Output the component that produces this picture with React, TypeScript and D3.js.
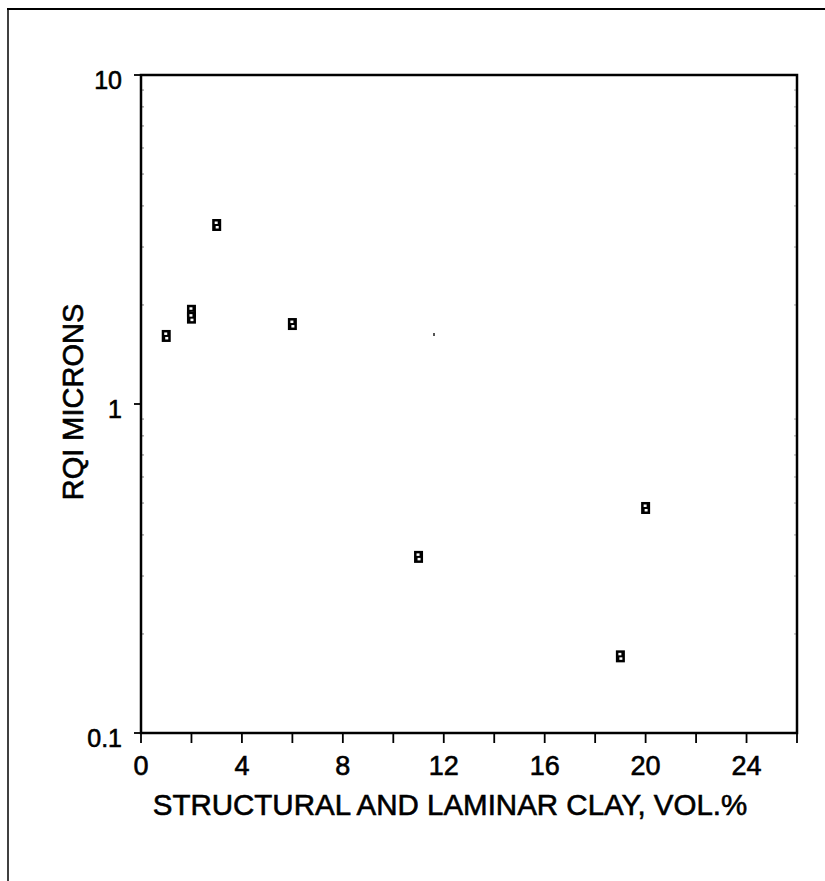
import React from "react";
import * as d3 from "d3";

const clayPct = [1, 2, 2, 3, 6, 11, 19, 20];
const rqiMicrons = [1.61, 1.92, 1.83, 3.5, 1.75, 0.343, 0.171, 0.483];
const xTicks = [0, 2, 4, 6, 8, 10, 12, 14, 16, 18, 20, 22, 24, 26];
const xTickLabels = [0, 4, 8, 12, 16, 20, 24];
const yTickLabels = [0.1, 1, 10];

export default function App() {
  const W = 825, H = 881;
  const left = 141, right = 797, top = 75, bottom = 733;
  const x = d3.scaleLinear().domain([0, 26]).range([left, right]);
  const y = d3.scaleLog().domain([0.1, 10]).range([bottom, top]);
  const minors: number[] = [];
  [0.1, 1].forEach((d) => {
    for (let k = 2; k <= 9; k++) minors.push(d * k);
  });
  const font = "'Liberation Sans', Arial, sans-serif";
  const txt = { fontFamily: font, fill: "#000", stroke: "#000", strokeWidth: 0.6 };
  return (
    <svg width={W} height={H} style={{ position: "absolute", left: 0, top: 0 }}>
      <rect width={W} height={H} fill="#fff" />
      {/* outer frame */}
      <line x1={7} y1={9} x2={W} y2={9} stroke="#000" strokeWidth={2} />
      <line x1={8} y1={9} x2={8} y2={H} stroke="#000" strokeWidth={1.5} />
      {/* plot box */}
      <rect x={left} y={top} width={right - left} height={bottom - top} fill="none" stroke="#000" strokeWidth={2.5} />
      {/* x ticks */}
      {xTicks.map((t) => (
        <line key={"xt" + t} x1={x(t)} x2={x(t)} y1={bottom} y2={bottom + 10} stroke="#000" strokeWidth={1.8} />
      ))}
      {xTickLabels.map((t) => (
        <text key={"xl" + t} x={x(t)} y={775} textAnchor="middle" fontSize={27} {...txt}>
          {t}
        </text>
      ))}
      {/* y ticks */}
      {yTickLabels.map((t) => (
        <g key={"yt" + t}>
          <line x1={left - 7} x2={left} y1={y(t)} y2={y(t)} stroke="#000" strokeWidth={1.8} />
          <text x={122} y={y(t) + 14} textAnchor="end" fontSize={25} {...txt}>
            {t}
          </text>
        </g>
      ))}
      {minors.map((t) => (
        <g key={"ym" + t}>
          <line x1={left} x2={left + 3} y1={y(t)} y2={y(t)} stroke="#000" strokeWidth={1} opacity={0.5} />
          <line x1={right - 3} x2={right} y1={y(t)} y2={y(t)} stroke="#000" strokeWidth={1} opacity={0.35} />
        </g>
      ))}
      {/* points */}
      {clayPct.map((c, i) => {
        const cx = x(c), cy = y(rqiMicrons[i]);
        return (
          <g key={"p" + i}>
            <rect x={cx - 4.5} y={cy - 6} width={9} height={12} fill="#000" />
            <rect x={cx - 2} y={cy - 3.5} width={3} height={2.5} fill="#fff" />
            <rect x={cx - 1} y={cy + 1} width={3} height={2.5} fill="#fff" />
          </g>
        );
      })}
      {/* stray speck */}
      <rect x={433} y={333} width={2} height={3} fill="#555" />
      {/* axis titles */}
      <text x={450} y={815} textAnchor="middle" fontSize={29.5} {...txt}>
        STRUCTURAL AND LAMINAR CLAY, VOL.%
      </text>
      <text transform={`translate(83, 402) rotate(-90)`} textAnchor="middle" fontSize={29} {...txt}>
        RQI MICRONS
      </text>
    </svg>
  );
}
